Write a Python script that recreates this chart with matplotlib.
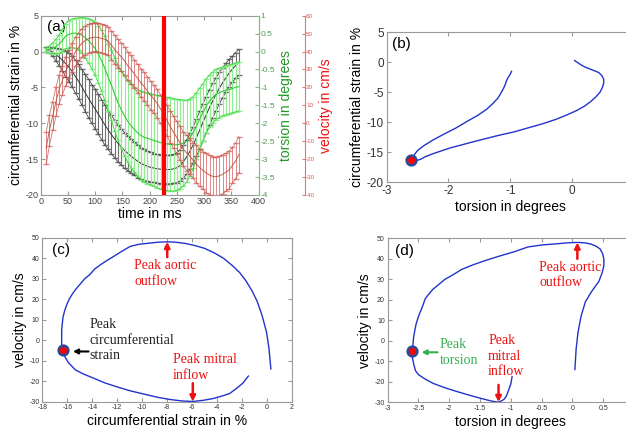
import numpy as np
import matplotlib
matplotlib.use("Agg")
import matplotlib.pyplot as plt
from matplotlib.ticker import FuncFormatter

plt.rcParams['font.family'] = ['Liberation Sans', 'DejaVu Sans']
plt.rcParams['axes.unicode_minus'] = False

# time points (ms) and mean / sd of each measured curve
time_ms = [10, 16, 22, 28, 34, 40, 46, 52, 58, 64,
           70, 76, 82, 88, 94, 100, 106, 112, 118, 124,
           130, 136, 142, 148, 154, 160, 166, 172, 178, 184,
           190, 196, 202, 208, 214, 220, 226, 232, 238, 244,
           250, 256, 262, 268, 274, 280, 286, 292, 298, 304,
           310, 316, 322, 328, 334, 340, 346, 352, 358, 364]

strain_mean = [0.3, 0.15, -0.05, -0.4, -0.8, -1.2, -1.7, -2.2, -2.8, -3.5,
               -4.2, -5.0, -5.8, -6.55, -7.3, -8.0, -8.75, -9.5, -10.25, -10.95,
               -11.6, -12.2, -12.8, -13.3, -13.8, -14.2, -14.6, -14.95, -15.3, -15.6,
               -15.8, -16.0, -16.15, -16.25, -16.35, -16.4, -16.45, -16.45, -16.45, -16.35,
               -16.2, -15.9, -15.35, -14.7, -13.9, -13.0, -12.0, -10.95, -9.85, -8.8,
               -7.8, -6.85, -5.95, -5.1, -4.35, -3.65, -3.0, -2.45, -1.95, -1.5]
strain_sd = [0.3, 0.4, 0.6, 0.9, 1.2, 1.5, 1.8, 2.0, 2.2, 2.3,
             2.4, 2.5, 2.6, 2.7, 2.7, 2.8, 2.8, 2.8, 2.8, 2.7,
             2.7, 2.6, 2.6, 2.5, 2.5, 2.4, 2.4, 2.3, 2.3, 2.2,
             2.2, 2.1, 2.1, 2.0, 2.0, 2.0, 2.0, 2.0, 2.0, 2.0,
             2.1, 2.2, 2.3, 2.4, 2.5, 2.5, 2.6, 2.6, 2.6, 2.5,
             2.5, 2.4, 2.3, 2.2, 2.1, 2.0, 1.9, 1.8, 1.8, 1.8]

torsion_mean = [0.04, 0.06, 0.09, 0.14, 0.21, 0.31, 0.43, 0.48, 0.51, 0.51,
                0.49, 0.45, 0.38, 0.3, 0.2, 0.08, -0.08, -0.26, -0.48, -0.72,
                -0.94, -1.2, -1.43, -1.62, -1.8, -1.95, -2.07, -2.17, -2.27, -2.34,
                -2.39, -2.42, -2.45, -2.48, -2.51, -2.54, -2.56, -2.58, -2.59, -2.6,
                -2.6, -2.58, -2.55, -2.5, -2.4, -2.26, -2.08, -1.88, -1.7, -1.52,
                -1.38, -1.28, -1.2, -1.15, -1.11, -1.08, -1.06, -1.03, -1.0, -0.98]
torsion_sd = [0.05, 0.1, 0.15, 0.2, 0.26, 0.31, 0.35, 0.38, 0.4, 0.42,
              0.45, 0.5, 0.56, 0.62, 0.68, 0.74, 0.8, 0.85, 0.9, 0.94,
              0.98, 1.02, 1.05, 1.08, 1.11, 1.14, 1.17, 1.19, 1.21, 1.23,
              1.25, 1.26, 1.27, 1.28, 1.29, 1.3, 1.3, 1.3, 1.3, 1.29,
              1.27, 1.24, 1.2, 1.14, 1.08, 1.0, 0.93, 0.86, 0.8, 0.76,
              0.73, 0.71, 0.7, 0.69, 0.68, 0.68, 0.68, 0.68, 0.68, 0.68]

velocity_mean = [-14, -4, 4, 12, 19, 24, 29, 33, 36.5, 40,
                 42.5, 44.8, 46.2, 47.2, 47.8, 48, 47.8, 47.3, 46.8, 45.8,
                 43.5, 41.2, 39, 37, 34.8, 32, 30, 27.5, 25, 22.5,
                 20.5, 18, 15.5, 13.5, 11, 8, 5, 1.5, -2, -5,
                 -8, -11, -14.5, -16.5, -18.5, -20.8, -22.8, -24.7, -26.3, -27.8,
                 -28.9, -29.6, -29.9, -29.3, -28.5, -27.3, -26, -23.5, -21, -17.5]
velocity_sd = [9, 8.5, 8, 8, 8, 8, 8, 8, 8, 8,
               8, 8, 8, 8, 8, 8, 8, 8, 8, 8,
               8, 8, 8, 8, 8, 8, 8, 8, 8, 8,
               8, 8, 8, 8, 8, 8, 8.5, 8.5, 9, 9,
               9, 9.5, 9.5, 10, 10, 10, 10.5, 10.5, 10.5, 11,
               11, 11, 11, 11, 11, 10.5, 10.5, 10, 10, 10]

t = np.array(time_ms)
s, s_sd = np.array(strain_mean), np.array(strain_sd)
tq, tq_sd = np.array(torsion_mean), np.array(torsion_sd)
v, v_sd = np.array(velocity_mean), np.array(velocity_sd)
i_strain = int(np.argmin(s))      # peak circumferential strain
i_torsion = int(np.argmin(tq))    # peak torsion (marked point)

BLUE = '#2233cc'
RED = '#ee1111'
SPINE = '#999999'
serif = ['Liberation Serif', 'DejaVu Serif']


def matlab_box(ax, fs):
    for sp in ax.spines.values():
        sp.set_color(SPINE)
        sp.set_linewidth(0.8)
    ax.tick_params(direction='in', length=3, top=True, right=True,
                   labelsize=fs, colors='#333333', color=SPINE, pad=2)


def dot(ax, x, y):
    ax.plot(x, y, 'o', ms=7, mfc='red', mec='#2a4a9a', mew=1.8, zorder=5)


fig = plt.figure(figsize=(6.26, 4.29), dpi=100)

# ---- (a) time curves
ax = fig.add_axes([0.065, 0.5455, 0.348, 0.418])
ax.errorbar(t, s, yerr=s_sd, fmt='none', ecolor='#707070', elinewidth=0.8, capsize=2)
ax.plot(t, s, color='#333333', lw=0.7)
ax.plot(t, s + s_sd, color='#444444', lw=0.6)
ax.plot(t, s - s_sd, color='#444444', lw=0.6)
ax.set_xlim(0, 400)
ax.set_ylim(-20, 5)
ax.set_xticks(range(0, 401, 50))
ax.set_yticks(range(-20, 6, 5))
for sp in ax.spines.values():
    sp.set_color(SPINE)
ax.tick_params(direction='in', length=3, top=True, right=False, labelsize=6.5,
               colors='#444444', color=SPINE, pad=1.5)
ax.set_xlabel('time in ms', fontsize=10, labelpad=1)
ax.set_ylabel('circumferential strain in %', fontsize=10, labelpad=2)
ax.text(0.03, 0.975, '(a)', transform=ax.transAxes, va='top', fontsize=11)

ax2 = ax.twinx()
ax2.errorbar(t, tq, yerr=tq_sd, fmt='none', ecolor='#90ec90', elinewidth=0.8, capsize=2)
ax2.plot(t, tq, color='#33cc33', lw=0.8)
ax2.plot(t, tq + tq_sd, color='#44dd44', lw=0.7)
ax2.plot(t, tq - tq_sd, color='#44dd44', lw=0.7)
ax2.set_ylim(-4, 1)
ax2.set_yticks(np.arange(-4, 1.01, 0.5))
ax2.yaxis.set_major_formatter(FuncFormatter(lambda x, p: f'{x:g}'))
for k in ['left', 'top', 'bottom']:
    ax2.spines[k].set_visible(False)
ax2.spines['right'].set_color('#88bb88')
ax2.tick_params(direction='in', length=3, labelsize=6, colors='#559955', color='#88bb88', pad=1.5)
ax2.set_ylabel('torsion in degrees', fontsize=10, color='#229922', labelpad=3)

ax3 = ax.twinx()
ax3.spines['right'].set_position(('axes', 1.212))
ax3.errorbar(t, v, yerr=v_sd, fmt='none', ecolor='#d86060', elinewidth=0.7, capsize=2, alpha=0.75)
ax3.plot(t, v, color='#c05040', lw=0.7, alpha=0.9)
ax3.plot(t, v + v_sd, color='#c05545', lw=0.6, alpha=0.8)
ax3.plot(t, v - v_sd, color='#c05545', lw=0.6, alpha=0.8)
ax3.axvline(t[i_strain], color='#ff0000', lw=3)
ax3.set_ylim(-40, 60)
ax3.set_yticks(range(-40, 61, 10))
for k in ['left', 'top', 'bottom']:
    ax3.spines[k].set_visible(False)
ax3.spines['right'].set_color('#dd7777')
ax3.tick_params(direction='in', length=2, labelsize=4.5, colors='#dd5555', color='#dd7777', pad=1)
ax3.set_ylabel('velocity in cm/s', fontsize=10, color=RED, labelpad=3)

# ---- (b) strain vs torsion
axb = fig.add_axes([0.6177, 0.575, 0.395, 0.3497])
axb.plot(tq, s, color=BLUE, lw=1)
dot(axb, tq[i_torsion], s[i_torsion])
axb.set_xlim(-3, 1)
axb.set_ylim(-20, 5)
axb.set_xticks(range(-3, 1))
axb.set_yticks(range(-20, 6, 5))
matlab_box(axb, 8.5)
axb.set_xlabel('torsion in degrees', fontsize=10, labelpad=2)
axb.set_ylabel('circumferential strain in %', fontsize=10, labelpad=2)
axb.text(0.022, 0.97, '(b)', transform=axb.transAxes, va='top', fontsize=11)

# ---- (c) velocity vs strain
axc = fig.add_axes([0.0676, 0.0636, 0.399, 0.3823])
axc.plot(s, v, color=BLUE, lw=1)
dot(axc, s[i_torsion], v[i_torsion])
axc.set_xlim(-18, 2)
axc.set_ylim(-30, 50)
axc.set_xticks(range(-18, 3, 2))
axc.set_yticks(range(-30, 51, 10))
matlab_box(axc, 5)
axc.set_xlabel('circumferential strain in %', fontsize=10, labelpad=2)
axc.set_ylabel('velocity in cm/s', fontsize=10, labelpad=2)
axc.text(0.04, 0.965, '(c)', transform=axc.transAxes, va='top', fontsize=11)

arr_red = dict(arrowstyle='-|>', color=RED, lw=1.8, mutation_scale=8, shrinkA=0, shrinkB=0)
axc.annotate('', xy=(s[np.argmax(v)], v.max()), xytext=(s[np.argmax(v)], 40.5), arrowprops=arr_red)
axc.text(-10.65, 39.5, 'Peak aortic\noutflow', color=RED, fontsize=10, family=serif,
         va='top', linespacing=1.25)
axc.annotate('', xy=(s[np.argmin(v)], v.min()), xytext=(s[np.argmin(v)], -21), arrowprops=arr_red)
axc.text(-7.55, -6.3, 'Peak mitral\ninflow', color=RED, fontsize=10, family=serif,
         va='top', linespacing=1.25)
axc.annotate('', xy=(-15.55, v[i_torsion] - 0.5), xytext=(-14.3, v[i_torsion] - 0.5),
             arrowprops=dict(arrowstyle='-|>', color='black', lw=1.5, mutation_scale=7,
                             shrinkA=0, shrinkB=0))
axc.text(-14.25, 10.8, 'Peak\ncircumferential\nstrain', color='#222222', fontsize=10,
         family=serif, va='top', linespacing=1.25)

# ---- (d) velocity vs torsion
axd = fig.add_axes([0.6193, 0.0622, 0.3935, 0.3823])
axd.plot(tq, v, color=BLUE, lw=1)
dot(axd, tq[i_torsion], v[i_torsion])
axd.set_xlim(-3, 1)
axd.set_ylim(-30, 50)
axd.set_xticks(np.arange(-3, 0.51, 0.5))
axd.set_yticks(range(-30, 51, 10))
axd.xaxis.set_major_formatter(FuncFormatter(lambda x, p: f'{x:g}'))
matlab_box(axd, 5)
axd.set_xlabel('torsion in degrees', fontsize=10, labelpad=2)
axd.set_ylabel('velocity in cm/s', fontsize=10, labelpad=2)
axd.text(0.03, 0.965, '(d)', transform=axd.transAxes, va='top', fontsize=11)

axd.annotate('', xy=(tq[np.argmax(v)], v.max()), xytext=(tq[np.argmax(v)], 40), arrowprops=arr_red)
axd.text(-0.54, 39, 'Peak aortic\noutflow', color=RED, fontsize=10, family=serif,
         va='top', linespacing=1.25)
axd.annotate('', xy=(tq[np.argmin(v)], v.min()), xytext=(tq[np.argmin(v)], -21.5), arrowprops=arr_red)
axd.text(-1.37, 3.3, 'Peak\nmitral\ninflow', color=RED, fontsize=10, family=serif,
         va='top', linespacing=1.25)
axd.annotate('', xy=(-2.45, v[i_torsion] - 0.6), xytext=(-2.19, v[i_torsion] - 0.6),
             arrowprops=dict(arrowstyle='-|>', color='#33b050', lw=1.5, mutation_scale=7,
                             shrinkA=0, shrinkB=0))
axd.text(-2.16, 1.2, 'Peak\ntorsion', color='#33b050', fontsize=10, family=serif,
         va='top', linespacing=1.25)

fig.savefig('out.png', dpi=100)
